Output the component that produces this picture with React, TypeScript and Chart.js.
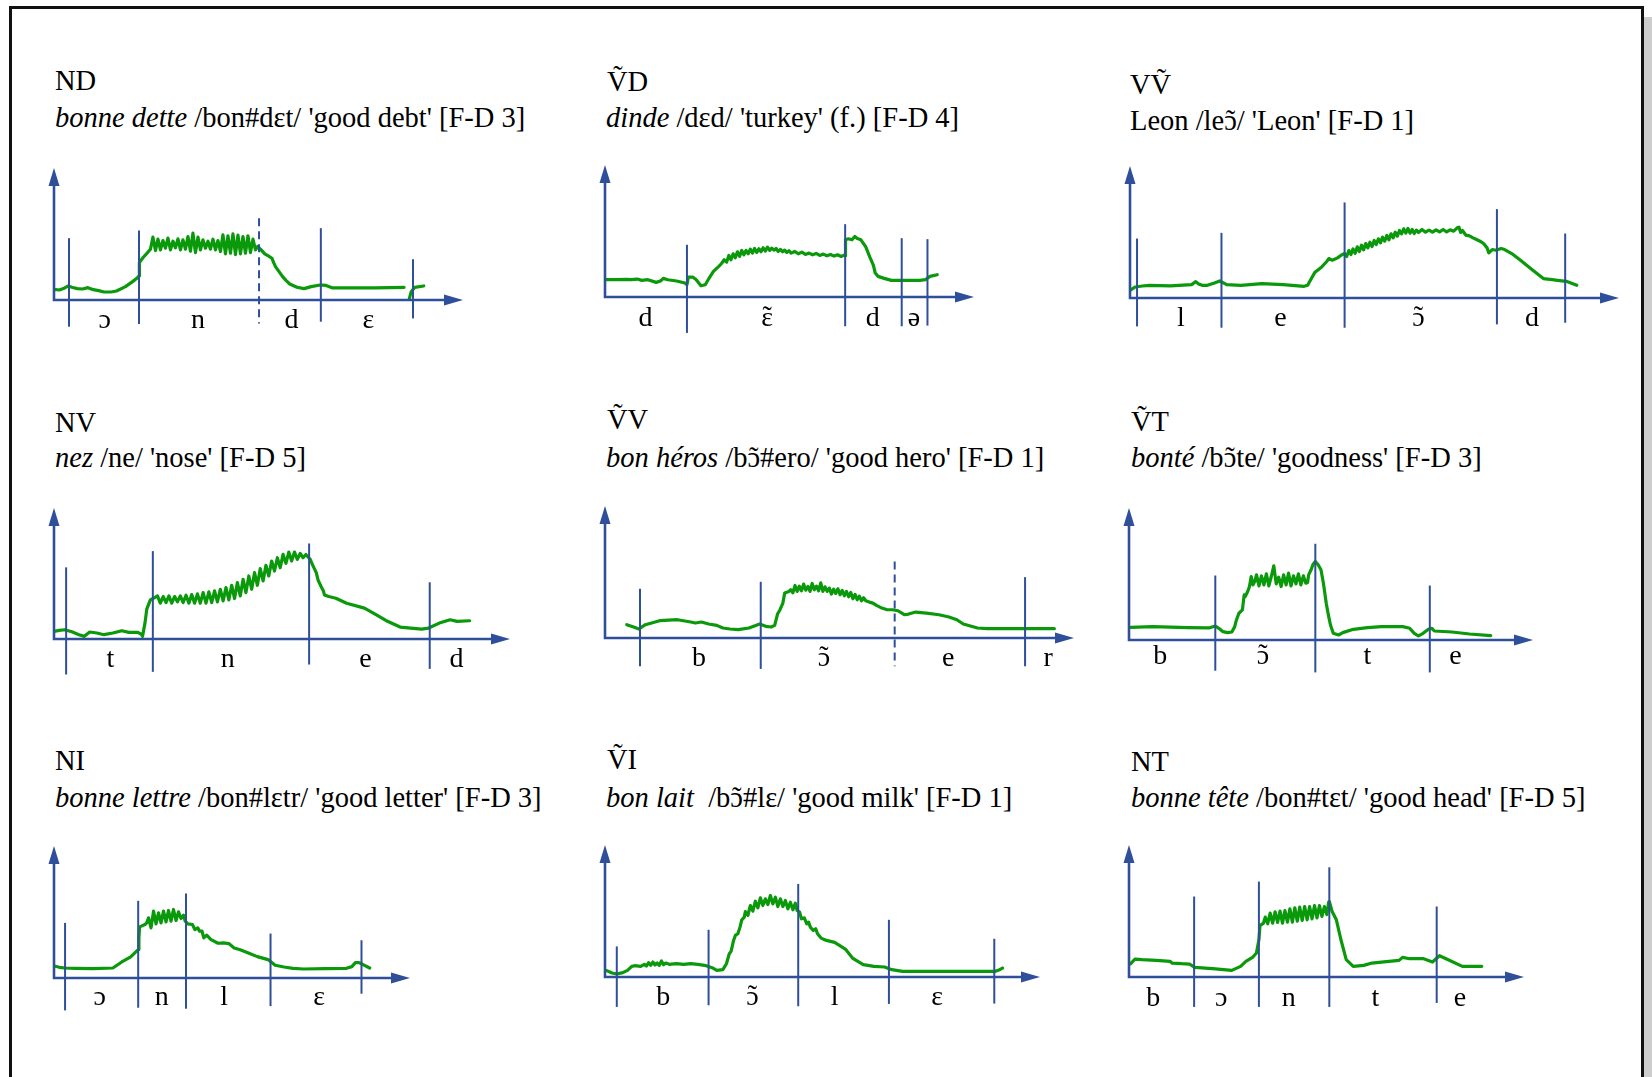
import React, { useEffect, useRef } from "react";
import { Chart, registerables } from "chart.js";
Chart.register(...registerables);

type Pt = [number, number | null];
type Bound = [number, number, number, number]; // time, top, bottom, dashed

// ---------- Panel 1: ND ----------
const ND_FLOW: Pt[] = [[0,32],[15,30],[30,36],[40,42],[50,38],[65,34],[80,33],[95,37],[110,31],[125,28],[140,24],[160,24],[175,27],[200,40],[220,55],[232,65],[238,72],[239,112],[250,128],[262,142],[270,152],
[277,188],[284,148],[291,182],[298,150],[305,178],[312,155],[319,185],[326,150],[333,176],[340,156],[347,183],[354,150],[361,180],[368,152],[375,190],[382,146],[389,200],[396,142],[403,188],[410,150],[417,180],[424,155],[431,176],[438,152],[445,182],[452,150],[459,178],[466,145],[473,195],[480,138],[487,192],[494,140],[501,198],[508,136],[515,194],[522,138],[529,190],[536,140],[543,192],[550,142],[557,182],[564,150],[570,160],
[580,150],[590,138],[600,132],[610,125],[615,112],[620,100],[630,85],[640,70],[650,58],[660,48],[680,38],[700,34],[720,40],[745,45],[760,44],[780,36],[900,36],[980,38],[988,null],[995,5],[1000,25],[1010,38],[1035,42]];
const ND_BOUNDS: Bound[] = [[42,185,-80,0],[238,208,-72,0],[574,245,-70,1],[747,215,-65,0],[1005,122,-55,0]];
const ND_SEGMENTS = ["ɔ", "n", "d", "ɛ"];
const ND_SEGMENT_X = [142, 403, 665, 880];

// ---------- Panel 2: ṼD ----------
const VD_FLOW: Pt[] = [[0,52],[30,52],[60,53],[73,52],[90,54],[103,50],[120,52],[143,44],[155,48],[163,56],[175,52],[200,48],[223,42],[229,37],[233,60],[245,60],[255,52],[268,34],[280,37],[290,55],[303,77],[318,92],[325,100],[333,112],
[340,105],[346,125],[352,112],[358,130],[364,118],[370,136],[376,122],[382,140],[388,127],[394,140],[400,130],[406,144],[412,132],[418,146],[424,134],[430,145],[436,136],[442,148],[448,138],[454,150],[460,140],[466,147],[472,141],[478,146],[484,137],[490,143],[496,136],[502,141],[508,134],[514,139],[520,132],[530,137],[540,130],[550,135],[560,128],[570,132],[580,127],[590,131],[600,125],[610,129],[620,124],[630,128],[640,123],[650,127],[660,122],[668,126],[671,124],
[672,172],[680,175],[690,172],[698,182],[705,176],[715,172],[728,152],[740,120],[750,95],[755,72],[763,62],[780,56],[800,50],[830,50],[880,50],[895,52],[908,62],[928,67]];
const VD_BOUNDS: Bound[] = [[229,157,-108,0],[671,219,-88,0],[829,177,-88,0],[901,174,-86,0]];
const VD_SEGMENTS = ["d", "ɛ̃", "d", "ə"];
const VD_SEGMENT_X = [113, 453, 748, 863];

// ---------- Panel 3: VṼ ----------
const VVN_FLOW: Pt[] = [[0,23],[15,33],[35,36],[55,38],[115,36],[175,40],[187,49],[195,42],[205,38],[220,38],[240,45],[255,51],[275,40],[315,38],[375,43],[435,40],[495,35],[505,38],[510,48],[525,76],[545,93],[560,110],[565,118],[575,113],[590,120],[600,128],[610,133],
[616,124],[622,142],[628,130],[634,147],[640,134],[646,153],[652,139],[658,158],[664,144],[670,163],[676,150],[682,167],[688,154],[694,172],[700,160],[706,177],[712,165],[718,182],[724,170],[730,187],[736,174],[742,192],[748,180],[754,197],[760,185],[766,202],[772,192],
[778,207],[784,194],[790,208],[796,194],[802,205],[808,193],[814,203],[820,196],[830,205],[840,197],[850,203],[860,197],[870,204],[880,198],[890,205],[900,198],[910,204],[920,200],[930,210],[935,212],[940,196],[945,202],[955,188],[965,186],[975,180],[985,175],[995,170],[1005,163],[1015,150],[1020,135],[1030,145],[1040,143],[1055,148],[1065,145],[1085,133],[1110,113],[1145,83],[1175,58],[1200,55],[1215,53],[1240,50],[1270,38]];
const VVN_BOUNDS: Bound[] = [[20,178,-85,0],[260,195,-89,0],[610,286,-89,0],[1043,266,-79,0],[1237,193,-74,0]];
const VVN_SEGMENTS = ["l", "e", "ɔ̃", "d"];
const VVN_SEGMENT_X = [145, 428, 820, 1143];

// ---------- Panel 4: NV ----------
const NV_FLOW: Pt[] = [[0,23],[15,26],[30,28],[50,22],[70,13],[85,8],[100,21],[120,18],[140,13],[165,18],[190,25],[210,20],[235,20],[245,14],[248,8],[255,48],[260,90],[270,118],[282,125],[290,130],
[298,108],[306,128],[314,110],[322,130],[330,108],[338,128],[346,112],[354,130],[362,110],[370,132],[378,108],[386,134],[394,108],[402,136],[410,108],[418,140],[426,108],[434,142],[442,110],[450,145],[458,112],[466,150],[474,115],[482,155],[490,118],[498,162],[506,122],[514,170],[522,130],[530,180],[538,140],[546,190],[554,150],[562,200],[570,162],[578,212],[586,175],[594,222],[602,190],[610,235],[618,205],[626,245],[634,215],[642,255],[650,228],[658,262],[666,235],[674,262],[682,240],[690,258],[698,245],[706,255],[714,245],[718,240],
[725,223],[735,200],[740,178],[750,155],[755,145],[758,133],[770,128],[790,123],[820,108],[870,93],[900,75],[930,56],[970,36],[1030,30],[1050,33],[1080,48],[1110,58],[1130,53],[1165,55]];
const NV_BOUNDS: Bound[] = [[34,216,-107,0],[277,265,-99,0],[715,288,-77,0],[1053,171,-90,0]];
const NV_SEGMENTS = ["t", "n", "e", "d"];
const NV_SEGMENT_X = [158, 487, 873, 1128];

// ---------- Panel 5: ṼV ----------
const VV_FLOW: Pt[] = [[61,40],[80,33],[95,27],[113,40],[153,52],[203,55],[240,48],[253,45],[270,48],[290,42],[313,38],[330,30],[350,27],[373,25],[403,30],[420,37],[433,42],[450,35],[465,33],[475,38],[483,72],[490,85],[498,105],[503,135],[515,140],[520,145],
[526,136],[532,158],[538,140],[544,156],[550,142],[556,162],[562,144],[568,155],[574,140],[580,164],[586,145],[592,156],[598,142],[604,166],[610,140],[616,154],[622,140],[628,150],[634,132],[640,147],[646,134],[652,148],[658,130],[664,143],[670,127],[676,140],[682,124],[688,137],[694,118],[700,131],[706,115],[712,126],[718,112],[724,121],[730,112],
[740,108],[750,105],[760,98],[775,90],[790,85],[805,85],[820,82],[838,70],[850,72],[870,78],[900,75],[935,70],[963,63],[985,55],[1003,42],[1043,30],[1070,28],[1150,28],[1258,28]];
const VV_BOUNDS: Bound[] = [[98,148,-85,0],[436,169,-93,0],[811,230,-85,1],[1176,183,-85,0]];
const VV_SEGMENTS = ["b", "ɔ̃", "e", "r"];
const VV_SEGMENT_X = [263, 613, 961, 1241];

// ---------- Panel 6: ṼT ----------
const VT_FLOW: Pt[] = [[5,38],[67,40],[167,37],[227,36],[245,42],[255,35],[267,25],[280,22],[292,24],[300,40],[305,60],[312,80],[322,90],[327,135],[330,130],[337,145],[342,160],[347,190],[352,165],[357,175],[362,195],
[369,162],[376,192],[383,165],[390,198],[397,162],[404,190],[411,222],[418,168],[425,188],[432,160],[439,195],[446,165],[453,200],[460,162],[467,192],[474,168],[481,198],[488,165],[495,192],[502,170],[507,172],
[510,195],[517,210],[522,225],[529,235],[537,225],[545,210],[552,170],[560,110],[566,75],[572,45],[580,20],[595,15],[607,22],[637,32],[677,37],[717,40],[747,40],[777,40],[797,35],[810,20],[822,12],[835,20],[850,32],[860,35],[867,27],[917,24],[967,18],[1027,13]];
const VT_BOUNDS: Bound[] = [[245,193,-92,0],[529,288,-97,0],[854,163,-97,0]];
const VT_SEGMENTS = ["b", "ɔ̃", "t", "e"];
const VT_SEGMENT_X = [89, 380, 677, 927];

// ---------- Panel 7: NI ----------
const NI_FLOW: Pt[] = [[0,36],[15,32],[30,30],[60,29],[110,28],[165,30],[190,48],[215,63],[236,85],[238,120],[240,153],[255,160],[260,165],[265,180],
[272,150],[279,200],[286,162],[293,195],[300,165],[307,200],[314,168],[321,202],[328,170],[335,205],[342,172],[349,198],[356,178],[363,188],[368,170],
[375,162],[388,160],[395,145],[403,150],[408,140],[415,140],[420,120],[428,128],[440,115],[460,104],[475,105],[490,103],[505,90],[520,85],[545,75],[570,64],[600,55],[620,38],[645,33],[670,29],[700,27],[760,28],[820,29],[835,34],[845,46],[855,46],[865,41],[885,30]];
const NI_BOUNDS: Bound[] = [[31,165,-97,0],[236,231,-89,0],[370,253,-92,0],[607,133,-84,0],[862,113,-47,0]];
const NI_SEGMENTS = ["ɔ", "n", "l", "ɛ"];
const NI_SEGMENT_X = [128, 302, 477, 743];

// ---------- Panel 8: ṼI ----------
const VI_FLOW: Pt[] = [[3,20],[20,12],[33,9],[50,13],[63,20],[75,32],[83,34],[100,32],[110,38],[116,33],[122,43],[128,35],[134,45],[140,36],[146,42],[152,35],[158,48],[164,37],[170,42],[180,38],[200,40],[220,38],[240,40],[260,38],[283,34],[300,28],[313,20],[330,22],[340,40],[348,70],[353,77],[360,110],[365,125],[372,130],[378,150],[383,172],[390,180],[393,197],
[400,185],[407,215],[414,198],[421,228],[428,208],[435,238],[442,215],[449,235],[456,218],[463,245],[470,220],[477,240],[484,212],[491,235],[498,212],[505,230],[512,205],[519,225],[526,202],[533,222],[538,200],
[545,195],[550,175],[558,178],[565,160],[570,165],[575,150],[583,140],[590,145],[595,130],[605,117],[620,110],[643,104],[673,84],[693,57],[723,37],[753,32],[783,30],[803,22],[833,17],[900,17],[1000,17],[1093,17],[1105,22],[1113,27]];
const VI_BOUNDS: Bound[] = [[33,92,-90,0],[290,142,-85,0],[541,280,-88,0],[795,172,-81,0],[1090,115,-80,0]];
const VI_SEGMENTS = ["b", "ɔ̃", "l", "ɛ"];
const VI_SEGMENT_X = [163, 413, 643, 930];

// ---------- Panel 9: NT ----------
const NT_FLOW: Pt[] = [[5,40],[17,54],[37,52],[77,50],[117,47],[122,42],[150,40],[172,39],[187,29],[237,25],[292,20],[317,32],[332,47],[352,60],[362,72],[369,112],[372,154],[382,162],[387,180],
[394,160],[401,192],[408,162],[415,196],[422,164],[429,198],[436,162],[443,200],[450,165],[457,205],[464,165],[471,208],[478,168],[485,210],[492,170],[499,212],[506,172],[513,212],[520,175],[527,215],[534,178],[541,215],[548,182],[555,212],[562,188],[567,225],[569,227],
[577,197],[589,172],[602,112],[617,52],[637,32],[667,35],[690,42],[717,45],[767,50],[777,59],[797,55],[837,55],[862,45],[882,64],[902,54],[947,32],[1002,32]];
const NT_BOUNDS: Bound[] = [[185,242,-90,0],[369,287,-90,0],[569,330,-90,0],[874,212,-78,0]];
const NT_SEGMENTS = ["b", "ɔ", "n", "t", "e"];
const NT_SEGMENT_X = [69, 262, 454, 700, 940];

// ---------- titles ----------
const TITLES = ["ND", "ṼD", "VṼ", "NV", "ṼV", "ṼT", "NI", "ṼI", "NT"];
const WORDS = ["bonne dette", "dinde", "", "nez", "bon héros", "bonté", "bonne lettre", "bon lait", "bonne tête"];
const GLOSSES = [
  " /bon#dɛt/ 'good debt' [F-D 3]",
  " /dɛd/ 'turkey' (f.) [F-D 4]",
  "Leon /leɔ̃/ 'Leon' [F-D 1]",
  " /ne/ 'nose' [F-D 5]",
  " /bɔ̃#ero/ 'good hero' [F-D 1]",
  " /bɔ̃te/ 'goodness' [F-D 3]",
  " /bon#lɛtr/ 'good letter' [F-D 3]",
  "  /bɔ̃#lɛ/ 'good milk' [F-D 1]",
  " /bon#tɛt/ 'good head' [F-D 5]",
];
const FLOWS = [ND_FLOW, VD_FLOW, VVN_FLOW, NV_FLOW, VV_FLOW, VT_FLOW, NI_FLOW, VI_FLOW, NT_FLOW];
const BOUNDS = [ND_BOUNDS, VD_BOUNDS, VVN_BOUNDS, NV_BOUNDS, VV_BOUNDS, VT_BOUNDS, NI_BOUNDS, VI_BOUNDS, NT_BOUNDS];
const SEGMENTS = [ND_SEGMENTS, VD_SEGMENTS, VVN_SEGMENTS, NV_SEGMENTS, VV_SEGMENTS, VT_SEGMENTS, NI_SEGMENTS, VI_SEGMENTS, NT_SEGMENTS];
const SEGMENT_X = [ND_SEGMENT_X, VD_SEGMENT_X, VVN_SEGMENT_X, NV_SEGMENT_X, VV_SEGMENT_X, VT_SEGMENT_X, NI_SEGMENT_X, VI_SEGMENT_X, NT_SEGMENT_X];
const X_MAX = [1145, 1031, 1390, 1278, 1313, 1147, 998, 1218, 1122];
const Y_MAX = [395, 397, 395, 395, 397, 395, 395, 397, 397];

// ---------- layout (pixels) ----------
const GEOM = [
  { ox: 54, oy: 300, xt: 463, yt: 168, tx: 55, tb: 91, sx: 55, sb: 128, drop: 28 },
  { ox: 605, oy: 297, xt: 974, yt: 165, tx: 607, tb: 92, sx: 606, sb: 128, drop: 29 },
  { ox: 1130, oy: 298, xt: 1619, yt: 166, tx: 1130, tb: 95, sx: 1130, sb: 131, drop: 28 },
  { ox: 54, oy: 639, xt: 510, yt: 508, tx: 55, tb: 433, sx: 55, sb: 468, drop: 28 },
  { ox: 605, oy: 638, xt: 1074, yt: 506, tx: 607, tb: 430, sx: 606, sb: 468, drop: 28 },
  { ox: 1129, oy: 640, xt: 1533, yt: 508, tx: 1131, tb: 432, sx: 1131, sb: 468, drop: 24 },
  { ox: 54, oy: 978, xt: 410, yt: 846, tx: 55, tb: 771, sx: 55, sb: 808, drop: 27 },
  { ox: 605, oy: 977, xt: 1040, yt: 845, tx: 607, tb: 770, sx: 606, sb: 808, drop: 28 },
  { ox: 1129, oy: 977, xt: 1524, yt: 845, tx: 1131, tb: 772, sx: 1131, sb: 808, drop: 29 },
];

const GREEN = "#0a990a";
const BLUE = "#2f4f9b";
const FONT = '"Liberation Serif", "Times New Roman", "DejaVu Serif", serif';
const PAD = { left: 14, right: 6, top: 6, bottom: 48 };
const TILDE = "\u0303";

function Panel({ i }: { i: number }) {
  const ref = useRef<HTMLCanvasElement>(null);
  const g = GEOM[i];
  const w = g.xt - g.ox + PAD.left + PAD.right;
  const h = g.oy - g.yt + PAD.top + PAD.bottom;
  useEffect(() => {
    const xMax = X_MAX[i], yMax = Y_MAX[i];
    const decor = {
      id: "decor" + i,
      afterDatasetsDraw(chart: any) {
        const { ctx, scales } = chart;
        const sx = scales.x, sy = scales.y;
        const x0 = sx.getPixelForValue(0), y0 = sy.getPixelForValue(0);
        const xt = sx.getPixelForValue(xMax), yt = sy.getPixelForValue(yMax);
        ctx.save();
        ctx.strokeStyle = BLUE;
        ctx.fillStyle = BLUE;
        ctx.lineWidth = 2.6;
        ctx.beginPath();
        ctx.moveTo(x0 - 1.3, y0);
        ctx.lineTo(xt - 16, y0);
        ctx.moveTo(x0, y0);
        ctx.lineTo(x0, yt + 15);
        ctx.stroke();
        ctx.beginPath();
        ctx.moveTo(xt, y0);
        ctx.lineTo(xt - 19, y0 - 5.5);
        ctx.lineTo(xt - 19, y0 + 5.5);
        ctx.closePath();
        ctx.fill();
        ctx.beginPath();
        ctx.moveTo(x0, yt);
        ctx.lineTo(x0 - 5.5, yt + 18);
        ctx.lineTo(x0 + 5.5, yt + 18);
        ctx.closePath();
        ctx.fill();
        ctx.lineWidth = 2;
        for (const [bx, top, bot, dashed] of BOUNDS[i]) {
          ctx.setLineDash(dashed ? [8, 5] : []);
          const px = sx.getPixelForValue(bx);
          ctx.beginPath();
          ctx.moveTo(px, sy.getPixelForValue(top));
          ctx.lineTo(px, sy.getPixelForValue(bot));
          ctx.stroke();
        }
        ctx.setLineDash([]);
        ctx.fillStyle = "#000";
        ctx.font = "28px " + FONT;
        ctx.textAlign = "center";
        ctx.textBaseline = "alphabetic";
        SEGMENTS[i].forEach((s, k) => {
          const px = sx.getPixelForValue(SEGMENT_X[i][k]);
          if (s.includes(TILDE)) {
            ctx.fillText(s.replace(TILDE, ""), px, y0 + g.drop);
            ctx.fillText("\u02DC", px, y0 + g.drop - 1);
          } else {
            ctx.fillText(s, px, y0 + g.drop);
          }
        });
        ctx.restore();
      },
    };
    const chart = new Chart(ref.current as HTMLCanvasElement, {
      type: "line",
      data: {
        datasets: [
          {
            data: FLOWS[i].map(([x, y]) => ({ x, y })) as any,
            borderColor: GREEN,
            borderWidth: 3.2,
            pointRadius: 0,
            tension: 0,
            fill: false,
            spanGaps: false,
            borderJoinStyle: "round",
            borderCapStyle: "round",
          },
        ],
      },
      options: {
        responsive: false,
        animation: false,
        events: [],
        layout: { padding: PAD },
        scales: {
          x: { type: "linear", min: 0, max: xMax, display: false },
          y: { type: "linear", min: 0, max: yMax, display: false },
        },
        plugins: { legend: { display: false }, tooltip: { enabled: false }, title: { display: false } },
      },
      plugins: [decor],
    });
    return () => chart.destroy();
  }, [i]);
  return (
    <canvas
      ref={ref}
      width={w}
      height={h}
      style={{ position: "absolute", left: g.ox - PAD.left, top: g.yt - PAD.top, width: w, height: h }}
    />
  );
}

// Renders a string, stacking a centred tilde over any letter followed by U+0303.
function WithTildes({ text }: { text: string }) {
  const parts: React.ReactNode[] = [];
  let buf = "";
  for (let k = 0; k < text.length; k++) {
    const c = text[k];
    if (text[k + 1] === TILDE) {
      if (buf) parts.push(buf);
      buf = "";
      parts.push(
        <span key={k} style={{ position: "relative", display: "inline-block" }}>
          {c}
          <span style={{ position: "absolute", left: 0, top: 0, width: "100%", textAlign: "center" }}>{"\u02DC"}</span>
        </span>
      );
      k++;
    } else {
      buf += c;
    }
  }
  if (buf) parts.push(buf);
  return <>{parts}</>;
}

function Titles({ i }: { i: number }) {
  const g = GEOM[i];
  const base: React.CSSProperties = {
    position: "absolute",
    fontFamily: FONT,
    fontSize: 28.5,
    lineHeight: "32px",
    whiteSpace: "pre",
    color: "#000",
  };
  return (
    <>
      <div style={{ ...base, left: g.tx, top: g.tb - 25.7 }}>{TITLES[i]}</div>
      <div style={{ ...base, left: g.sx, top: g.sb - 25.7 }}>
        {WORDS[i] ? <i>{WORDS[i]}</i> : null}
        <WithTildes text={GLOSSES[i]} />
      </div>
    </>
  );
}

export default function App() {
  return (
    <div style={{ position: "absolute", left: 0, top: 0, width: 1652, height: 1077, overflow: "hidden", background: "#fff" }}>
      <div style={{ position: "absolute", left: 1644, top: 17, width: 8, height: 1100, background: "#cdcdcd" }} />
      <div
        style={{
          position: "absolute",
          left: 9,
          top: 6,
          width: 1635,
          height: 1200,
          boxSizing: "border-box",
          border: "3px solid #111",
        }}
      />
      {TITLES.map((_, i) => (
        <Titles key={"t" + i} i={i} />
      ))}
      {TITLES.map((_, i) => (
        <Panel key={"p" + i} i={i} />
      ))}
    </div>
  );
}
